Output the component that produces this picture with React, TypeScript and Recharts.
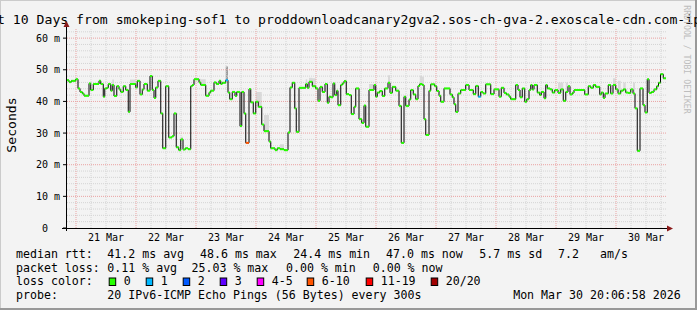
import React from "react";
import { ComposedChart, Line, Area, XAxis, YAxis, ReferenceLine } from "recharts";

// hours since 21 Mar 00:00, step starts of the median rtt
const stepHours = [
  -3.6, -2.8, -1.9, -0.1, 0.8, 1.6, 2.5, 3.2, 5.2, 5.9, 6.9, 9.2, 9.9, 10.9, 11.5, 12.3, 12.9, 13.9, 14.5, 15.2,
  16.3, 17.2, 17.9, 18.9, 19.9, 20.9, 21.6, 23.9, 24.5, 25.6, 26.5, 27.2, 28.5, 29.6, 30.5, 31.2, 31.9, 32.8, 33.9, 34.7,
  35.9, 37.1, 38.4, 39.2, 40.1, 41.1, 41.9, 42.8, 43.7, 44.8, 45.9, 46.5, 47.2, 49.2, 49.9, 51.9, 53.2, 53.9, 55.2, 56.1,
  57.2, 57.9, 58.5, 59.9, 60.8, 61.5, 62.5, 63.6, 64.3, 65.6, 66.3, 67.2, 67.9, 69.2, 69.9, 70.9, 71.9, 72.9, 74.3, 75.2,
  77.2, 77.9, 79.6, 80.5, 81.6, 83.2, 84.8, 85.6, 86.5, 87.5, 88.1, 89.2, 91.9, 92.5, 93.2, 94.5, 95.9, 96.8, 97.6, 98.5,
  99.6, 100.5, 101.2, 101.9, 102.8, 103.5, 104.3, 104.8, 105.9, 106.5, 107.2, 108.1, 109.2, 110.1, 111.2, 111.9, 113.2, 114.3, 115.2,
  115.9, 117.2, 119.2, 119.9, 120.5, 121.5, 122.5, 123.5, 124.8, 125.6, 126.5, 127.9, 129.2, 130.1, 131.2, 131.9, 133.2, 133.9, 134.9, 135.9,
  136.8, 137.5, 138.5, 139.2, 139.9, 141.2, 141.9, 143.5, 144.3, 145.2, 145.9, 147.2, 149.6, 150.5, 151.2, 151.9, 152.8, 153.9, 155.9,
  157.2, 158.9, 159.9, 160.9, 161.9, 162.8, 163.9, 165.9, 167.2, 169.2, 170.1, 171.2, 172.1, 173.2, 173.9, 175.9, 176.8, 177.6, 178.5, 179.5,
  180.3, 181.2, 181.9, 182.5, 183.2, 184.5, 185.5, 186.1, 187.2, 187.9, 188.5, 189.6, 190.5, 191.5, 192.8, 193.9, 194.9,
  195.9, 196.8, 197.6, 198.5, 199.2, 203.5, 204.9, 205.9, 206.9, 207.9, 209.5, 210.1, 210.9, 211.6, 212.9, 213.9, 214.8, 215.9, 216.8, 217.9,
  218.9, 219.9, 220.8, 221.9, 222.8, 223.6, 224.5, 225.6, 226.8, 227.6, 228.5, 229.2, 230.2, 231.2, 232.3, 233.0, 233.8, 234.9, 236,
];

// median rtt in ms
const medianMs = [
  46.7, 46.1, 46.5, 47.0, 44.1, 43.0, 42.5, 41.8, 45.7, 43.6, 45.5, 46.5, 45.5, 41.5, 44.1, 44.3, 45.5, 43.4, 45.2, 41.7,
  44.8, 43.8, 43.0, 44.8, 43.6, 36.7, 45.5, 44.4, 46.5, 42.2, 43.8, 45.5, 43.4, 48.0, 43.6, 41.1, 44.4, 46.5, 36.2, 25.2,
  44.8, 28.6, 29.0, 36.2, 25.5, 24.6, 28.0, 24.8, 25.2, 24.9, 44.8, 45.2, 47.0, 46.0, 45.2, 41.8, 42.8, 43.4, 46.0, 45.5,
  46.5, 45.5, 45.9, 46.7, 42.8, 40.7, 43.0, 41.7, 43.0, 32.2, 43.0, 36.2, 26.9, 43.9, 39.7, 36.2, 39.9, 38.3, 32.7, 30.6,
  27.3, 25.2, 24.6, 25.2, 24.9, 24.6, 30.2, 44.4, 45.9, 37.8, 30.4, 44.3, 45.5, 44.3, 46.2, 44.8, 44.1, 40.2, 44.6, 43.0,
  45.5, 39.6, 41.5, 41.3, 45.7, 42.0, 43.4, 38.8, 45.2, 45.7, 46.4, 42.3, 42.0, 36.0, 38.3, 44.1, 34.4, 33.2, 38.7,
  32.0, 43.6, 45.2, 41.5, 42.8, 43.3, 41.7, 44.1, 45.9, 42.7, 44.6, 43.4, 38.6, 26.9, 41.5, 38.6, 40.6, 43.6, 42.2, 40.7,
  44.9, 45.5, 45.2, 34.4, 29.4, 43.4, 45.4, 44.8, 43.3, 41.8, 39.9, 44.1, 42.2, 41.3, 39.1, 36.7, 42.5, 43.6, 45.2,
  43.6, 42.3, 44.9, 41.5, 43.0, 42.5, 45.4, 42.3, 43.8, 41.5, 44.3, 42.7, 42.2, 41.5, 40.7, 45.2, 43.6, 41.3, 44.1, 39.9,
  40.7, 43.6, 45.2, 43.8, 45.2, 42.8, 42.0, 43.0, 41.0, 45.2, 44.1, 43.8, 42.8, 43.6, 42.7, 43.8, 40.2,
  43.0, 44.8, 42.2, 42.7, 43.6, 42.2, 44.8, 44.3, 45.2, 44.6, 42.2, 42.8, 41.1, 42.5, 45.2, 42.5, 45.2, 43.8, 42.5, 43.4,
  43.8, 42.8, 42.7, 43.8, 42.5, 37.8, 24.4, 44.1, 38.8, 36.5, 47.0, 42.7, 43.0, 43.8, 44.8, 45.9, 48.6, 47.3, 47.3,
];

// steps with packet loss (index into lossColors)
const lossHours = [59.9, 67.9, 160.9];
const lossBands = [1, 5, 1];

const lossLabels = ["0", "1", "2", "3", "4-5", "6-10", "11-19", "20/20"];
const lossColors = ["#26ff00", "#00b8ff", "#0059ff", "#5e00ff", "#ff00ff", "#ff5500", "#ff0000", "#a00000"];

// visible smoke (top of the ping spread) on a few steps
const smokeHours = [14.5, 21.6, 41.9, 49.2, 49.9, 71.9, 72.9, 75.2, 81.6, 87.5, 91.9, 93.2, 94.5, 117.2, 124.8, 137.5, 138.5, 192.8, 193.9, 195.9, 214.8, 216.8, 218.9, 222.8];
const smokeTopMs = [46.9, 46.9, 28.8, 47.2, 47.0, 43.0, 43.0, 35.7, 26.5, 40.0, 47.0, 47.5, 47.3, 45.5, 48.3, 48.0, 47.8, 46.0, 46.0, 46.0, 47.3, 46.5, 46.0, 46.0];
const darkSmokeHours = [59.9];
const darkSmokeTopMs = [51.0];

const dayTicks = [12, 36, 60, 84, 108, 132, 156, 180, 204, 228];
const dayLabels = ["21 Mar", "22 Mar", "23 Mar", "24 Mar", "25 Mar", "26 Mar", "27 Mar", "28 Mar", "29 Mar", "30 Mar"];
const yTicks = [0, 10, 20, 30, 40, 50, 60];

const X_DOMAIN: [number, number] = [-3.6, 236];
const Y_DOMAIN: [number, number] = [0, 63.2];
const PX_PER_H = 599 / (X_DOMAIN[1] - X_DOMAIN[0]);

const majorX = [0, 24, 48, 72, 96, 120, 144, 168, 192, 216];
const minorX: number[] = [];
for (let h = 6; h < 236; h += 6) if (h % 24 !== 0) minorX.push(h);
const majorY = [10, 20, 30, 40, 50, 60];
const minorY: number[] = [];
for (let v = 2; v <= 62; v += 2) if (v % 10 !== 0) minorY.push(v);

const table = stepHours.map((h, i) => {
  const v = medianMs[i];
  const li = lossHours.indexOf(h);
  const si = smokeHours.indexOf(h);
  const di = darkSmokeHours.indexOf(h);
  return {
    h,
    next: stepHours[i + 1] ?? h,
    rtt: v,
    color: lossColors[li >= 0 ? lossBands[li] : 0],
    smoke: [v, si >= 0 ? smokeTopMs[si] : v],
    dark: [v, di >= 0 ? darkSmokeTopMs[di] : v],
  };
});

const MONO = "'DejaVu Sans Mono', monospace";
const GRID = "#d4d4d4";
const MGRID = "#eaa2a2";

function renderSegment(props: any) {
  const { cx, cy, index, points, payload } = props;
  const key = `seg-${index}`;
  if (cx == null || cy == null || index >= table.length - 1) return <g key={key} />;
  const nx = points && points[index + 1] ? points[index + 1].x : cx + (payload.next - payload.h) * PX_PER_H;
  return <line key={key} x1={cx} x2={nx} y1={cy} y2={cy} stroke={payload.color} strokeWidth={2} />;
}

function YTick(props: any) {
  const { y, payload } = props;
  const v = payload.value;
  return (
    <g>
      <line x1={63} x2={67} y1={y} y2={y} stroke="#000" strokeWidth={1} />
      <text x={v === 0 ? 48 : 60} y={y} dy="0.36em" textAnchor="end" fontFamily={MONO} fontSize={10} fill="#000">
        {v === 0 ? "0" : `${v} m`}
      </text>
    </g>
  );
}

function XTick(props: any) {
  const { x, payload } = props;
  const i = dayTicks.indexOf(payload.value);
  return (
    <text x={x} y={240.5} textAnchor="middle" fontFamily={MONO} fontSize={10} fill="#000">
      {dayLabels[i]}
    </text>
  );
}

const row1: [number, string][] = [
  [16, "median rtt:"], [107.3, "41.2 ms avg"], [200, "48.6 ms max"], [293.3, "24.4 ms min"],
  [386, "47.0 ms now"], [479.3, "5.7 ms sd"], [558, "7.2"], [600, "am/s"],
];
const row2: [number, string][] = [
  [16, "packet loss:"], [107.3, "0.11 % avg"], [191.5, "25.03 % max"], [286, "0.00 % min"], [372.7, "0.00 % now"],
];
const swatchX = [108.7, 145.7, 182.7, 219.7, 256.7, 306.7, 365.7, 430.7];

export default function App() {
  return (
    <div style={{ position: "absolute", left: 0, top: 0, width: 697, height: 310, background: "#f3f3f3" }}>
      <ComposedChart width={697} height={310} data={table} margin={{ top: 28, right: 31, bottom: 62, left: 7 }}>
        <XAxis dataKey="h" type="number" domain={X_DOMAIN} ticks={dayTicks} tick={<XTick />} axisLine={false} tickLine={false} height={20} allowDataOverflow interval={0} />
        <YAxis type="number" domain={Y_DOMAIN} ticks={yTicks} tick={<YTick />} axisLine={false} tickLine={false} width={60} allowDataOverflow interval={0} />
        {minorY.map(v => <ReferenceLine key={`my${v}`} y={v} stroke={GRID} strokeDasharray="1 1" />)}
        {minorX.map(h => <ReferenceLine key={`mx${h}`} x={h} stroke={GRID} strokeDasharray="1 1" />)}
        {majorY.map(v => <ReferenceLine key={`My${v}`} y={v} stroke={MGRID} strokeDasharray="1 1" />)}
        {majorX.map(h => <ReferenceLine key={`Mx${h}`} x={h} stroke={MGRID} strokeDasharray="1 1" />)}
        <Area dataKey="smoke" type="stepAfter" fill="#d9d9d9" fillOpacity={1} stroke="none" isAnimationActive={false} />
        <Area dataKey="dark" type="stepAfter" fill="#9e9e9e" fillOpacity={1} stroke="none" isAnimationActive={false} />
        <Line dataKey="rtt" type="stepAfter" stroke="#000" strokeWidth={1} dot={renderSegment} activeDot={false} isAnimationActive={false} />
      </ComposedChart>

      <svg width={697} height={310} style={{ position: "absolute", left: 0, top: 0, pointerEvents: "none" }}>
        {/* frame */}
        <line x1={0} y1={0.5} x2={697} y2={0.5} stroke="#cbcbcb" />
        <line x1={0.5} y1={0} x2={0.5} y2={310} stroke="#cbcbcb" />
        <line x1={0} y1={309} x2={697} y2={309} stroke="#999" strokeWidth={2} />
        <line x1={696} y1={0} x2={696} y2={310} stroke="#999" strokeWidth={2} />

        <text x={345.1} y={24} textAnchor="middle" fontFamily={MONO} fontSize={13.15} fill="#000">
          Last 10 Days from smokeping-sof1 to proddownloadcanary2gva2.sos-ch-gva-2.exoscale-cdn.com-ipv6
        </text>
        <text transform="translate(11,125) rotate(-90)" textAnchor="middle" dominantBaseline="central" fontFamily={MONO} fontSize={13.15} fill="#000">
          Seconds
        </text>
        <text transform="translate(687,59.5) rotate(90)" textAnchor="middle" dominantBaseline="central" fontFamily={MONO} fontSize={8.2} fill="#bdbdbd">
          RRDTOOL / TOBI OETIKER
        </text>

        {/* axes */}
        <line x1={66.5} y1={231} x2={66.5} y2={25} stroke="#000" />
        <polygon points="63.5,27 69.5,27 66.5,21" fill="#8b1a1a" />
        <line x1={62} y1={228.5} x2={668} y2={228.5} stroke="#000" />
        <polygon points="667,225.5 667,231.5 673,228.5" fill="#8b1a1a" />

        {/* legend */}
        <g fontFamily={MONO} fontSize={11.6} fill="#000">
          {row1.map(([x, t]) => <text key={`r1${x}`} x={x} y={257.7}>{t}</text>)}
          {row2.map(([x, t]) => <text key={`r2${x}`} x={x} y={271.6}>{t}</text>)}
          <text x={16} y={285.4}>loss color:</text>
          {lossLabels.map((l, i) => (
            <g key={l}>
              <rect x={swatchX[i] + 0.5} y={278} width={6.5} height={7.5} fill={lossColors[i]} stroke="#000" strokeWidth={1} />
              <text x={swatchX[i] + 15} y={285.4}>{l}</text>
            </g>
          ))}
          <text x={16} y={299.3}>probe:</text>
          <text x={107.3} y={299.3}>20 IPv6-ICMP Echo Pings (56 Bytes) every 300s</text>
          <text x={680.7} y={299.3} textAnchor="end">Mon Mar 30 20:06:58 2026</text>
        </g>
      </svg>
    </div>
  );
}
